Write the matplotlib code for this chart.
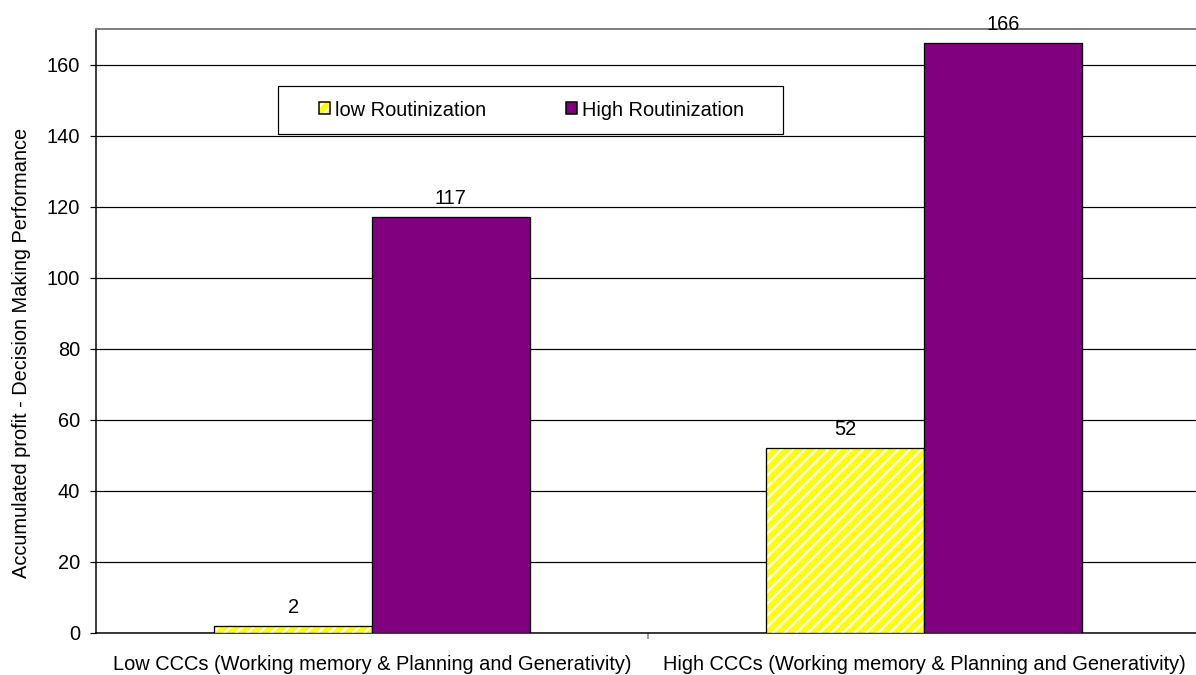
import matplotlib
matplotlib.use("Agg")
import matplotlib.pyplot as plt
from matplotlib.patches import Patch, Rectangle
from matplotlib.legend_handler import HandlerTuple
import numpy as np

categories = ["Low CCCs (Working memory & Planning and Generativity)",
              "High CCCs (Working memory & Planning and Generativity)"]
series_names = ["low Routinization", "High Routinization"]
low_values = [2, 52]
high_values = [117, 166]
yticks = [0, 20, 40, 60, 80, 100, 120, 140, 160]

DPI = 140
W, H = 1196, 675
plt.rcParams['font.family'] = ['Liberation Sans', 'DejaVu Sans']
plt.rcParams['hatch.color'] = '#FFFF00'
plt.rcParams['hatch.linewidth'] = 3.0

def px(v):
    return v * 72.0 / DPI

fs = px(20)

fig = plt.figure(figsize=(W / DPI, H / DPI), dpi=DPI)
ax = fig.add_axes([96 / W, 1 - 633 / H, 1104 / W, (633 - 29) / H])

x = np.arange(len(categories))
bw = 0.286
hb = ax.bar(x - bw / 2, low_values, bw, facecolor='white', edgecolor=None,
            hatch='////', linewidth=0, zorder=3)
eb = ax.bar(x - bw / 2, low_values, bw, fill=False, edgecolor='black',
            linewidth=px(1.3), zorder=4)
hib = ax.bar(x + bw / 2, high_values, bw, color='#800080', edgecolor='black',
             linewidth=px(1.3), zorder=4)

ax.bar_label(eb, labels=[str(v) for v in low_values], padding=px(9), fontsize=fs)
ax.bar_label(hib, labels=[str(v) for v in high_values], padding=px(9), fontsize=fs)

ax.set_xlim(-0.5, 1.5)
ax.set_ylim(0, 170)
ax.set_yticks(yticks)
ax.set_yticklabels([str(v) for v in yticks], fontsize=fs)
ax.yaxis.grid(True, color='black', linewidth=px(1.2), zorder=0)
ax.set_axisbelow(True)
ax.tick_params(axis='y', length=px(6), width=px(1.2), pad=px(10), direction='out')

ax.set_xticks(x)
ax.set_xticklabels(categories, fontsize=fs)
ax.tick_params(axis='x', which='major', length=0, pad=px(22))
ax.set_xticks([0.5], minor=True)
ax.tick_params(axis='x', which='minor', length=px(6), width=px(1.5), color='#808080', direction='out')

for s in ['left', 'bottom']:
    ax.spines[s].set_color('black')
    ax.spines[s].set_linewidth(px(1.5))
ax.spines['top'].set_color('#808080')
ax.spines['top'].set_linewidth(px(2))
ax.spines['right'].set_visible(False)

fig.text(22 / W, 1 - 353 / H, "Accumulated profit - Decision Making Performance",
         rotation=90, ha='center', va='center', fontsize=fs)

# legend frame
fig.patches.append(Rectangle((278 / W, 1 - 134 / H), (783 - 278) / W, (134 - 86) / H,
                             transform=fig.transFigure, fill=False,
                             edgecolor='black', linewidth=px(1.2), zorder=5))

h_low_fill = Patch(facecolor='white', edgecolor=None, hatch='////', linewidth=0)
h_low_edge = Patch(fill=False, edgecolor='black', linewidth=px(1.5))
h_high = Patch(facecolor='#800080', edgecolor='black', linewidth=px(1.5))
leg = fig.legend([(h_low_fill, h_low_edge), h_high], series_names,
                 handler_map={tuple: HandlerTuple(ndivide=1, pad=0)},
                 loc='center left', bbox_to_anchor=(319 / W, 1 - 110 / H),
                 ncol=2, fontsize=fs, frameon=False,
                 handlelength=0.55, handleheight=0.55, handletextpad=0.25,
                 columnspacing=4.0, borderpad=0, borderaxespad=0)

fig.savefig("out.png", dpi=DPI)
